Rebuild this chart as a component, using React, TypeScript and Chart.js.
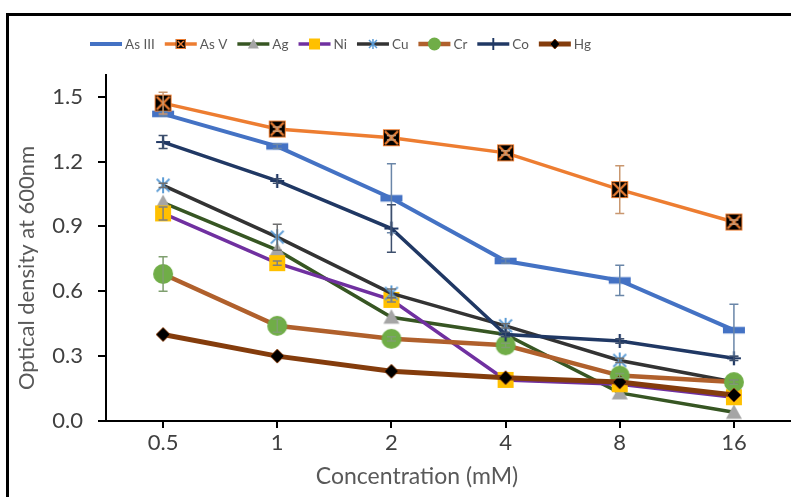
import React, { useEffect, useRef } from 'react';
import { Chart, registerables } from 'chart.js';

Chart.register(...registerables);

// ---------------- data ----------------
const categories = ['0.5', '1', '2', '4', '8', '16'];
const yTickValues = [0, 0.3, 0.6, 0.9, 1.2, 1.5];
const seriesNames = ['As III', 'As V', 'Ag', 'Ni', 'Cu', 'Cr', 'Co', 'Hg'];

const asIII = [1.42, 1.27, 1.03, 0.74, 0.65, 0.42];
const asV = [1.47, 1.35, 1.31, 1.24, 1.07, 0.92];
const ag = [1.01, 0.79, 0.48, 0.40, 0.13, 0.04];
const ni = [0.96, 0.73, 0.56, 0.19, 0.17, 0.11];
const cu = [1.09, 0.85, 0.59, 0.44, 0.28, 0.18];
const cr = [0.68, 0.44, 0.38, 0.35, 0.21, 0.18];
const co = [1.29, 1.11, 0.89, 0.40, 0.37, 0.29];
const hg = [0.40, 0.30, 0.23, 0.20, 0.18, 0.12];

const asIIIErr = [0.01, 0.01, 0.16, 0.01, 0.07, 0.12];
const asVErr = [0.05, 0.01, 0.01, 0.01, 0.11, 0.01];
const agErr = [0, 0, 0, 0, 0, 0];
const niErr = [0.03, 0.01, 0.01, 0, 0, 0];
const cuErr = [0.01, 0.06, 0.02, 0.01, 0.01, 0.01];
const crErr = [0.08, 0.03, 0.01, 0.01, 0.01, 0.01];
const coErr = [0.03, 0.01, 0.11, 0.01, 0.01, 0.01];
const hgErr = [0, 0, 0, 0, 0, 0];

const seriesValues = [asIII, asV, ag, ni, cu, cr, co, hg];
const seriesErrors = [asIIIErr, asVErr, agErr, niErr, cuErr, crErr, coErr, hgErr];

const xTitle = 'Concentration (mM)';
const yTitle = 'Optical density at 600nm';

// ---------------- styles ----------------
const FONT = 'Lato, "Open Sans", sans-serif';
const TEXT = '#595959';
const TICK_TEXT = '#404040';

type Kind = 'dash' | 'xsquare' | 'triangle' | 'square' | 'asterisk' | 'circle' | 'plus' | 'diamond';
interface Sty {
  line: string;
  width: number;
  kind: Kind;
  fill: string;
  stroke: string;
  size: number;
  legendSize: number;
  err: string;
}

const styles: Sty[] = [
  { line: '#4472C4', width: 4, kind: 'dash', fill: '#4472C4', stroke: '#4472C4', size: 11, legendSize: 6, err: '#6a86a8' },
  { line: '#ED7D31', width: 3.5, kind: 'xsquare', fill: '#000000', stroke: '#ED7D31', size: 8.5, legendSize: 5, err: '#c9976f' },
  { line: '#375623', width: 3.5, kind: 'triangle', fill: '#A5A5A5', stroke: '#A5A5A5', size: 8, legendSize: 5.5, err: '#808080' },
  { line: '#7030A0', width: 3.5, kind: 'square', fill: '#FFC000', stroke: '#FFC000', size: 8, legendSize: 5.5, err: '#808080' },
  { line: '#333333', width: 3.5, kind: 'asterisk', fill: '#5B9BD5', stroke: '#5B9BD5', size: 8, legendSize: 5, err: '#6f6f6f' },
  { line: '#B0602C', width: 4.5, kind: 'circle', fill: '#70AD47', stroke: '#70AD47', size: 10, legendSize: 6.5, err: '#7f9f6f' },
  { line: '#203864', width: 3.5, kind: 'plus', fill: '#203864', stroke: '#203864', size: 7, legendSize: 6, err: '#3d4f6d' },
  { line: '#843C0C', width: 5, kind: 'diamond', fill: '#000000', stroke: '#843C0C', size: 7, legendSize: 5, err: '#843C0C' },
];

function drawMarker(ctx: CanvasRenderingContext2D, kind: Kind, cx: number, cy: number, s: number, fill: string, stroke: string) {
  ctx.save();
  ctx.lineCap = 'butt';
  switch (kind) {
    case 'dash':
      ctx.fillStyle = fill;
      ctx.fillRect(cx - s, cy - s * 0.3, 2 * s, s * 0.6);
      break;
    case 'xsquare': {
      ctx.fillStyle = fill;
      ctx.fillRect(cx - s, cy - s, 2 * s, 2 * s);
      ctx.strokeStyle = stroke;
      ctx.lineWidth = 1;
      ctx.strokeRect(cx - s + 0.5, cy - s + 0.5, 2 * s - 1, 2 * s - 1);
      ctx.lineWidth = Math.max(1.5, s * 0.28);
      const d = s - 2;
      ctx.beginPath();
      ctx.moveTo(cx - d, cy - d);
      ctx.lineTo(cx + d, cy + d);
      ctx.moveTo(cx + d, cy - d);
      ctx.lineTo(cx - d, cy + d);
      ctx.stroke();
      break;
    }
    case 'triangle':
      ctx.fillStyle = fill;
      ctx.beginPath();
      ctx.moveTo(cx, cy - s);
      ctx.lineTo(cx + s, cy + s * 0.8);
      ctx.lineTo(cx - s, cy + s * 0.8);
      ctx.closePath();
      ctx.fill();
      break;
    case 'square':
      ctx.fillStyle = fill;
      ctx.fillRect(cx - s, cy - s, 2 * s, 2 * s);
      break;
    case 'asterisk': {
      ctx.strokeStyle = stroke;
      ctx.lineWidth = Math.max(1.5, s * 0.25);
      const d = s * 0.8;
      ctx.beginPath();
      ctx.moveTo(cx, cy - s);
      ctx.lineTo(cx, cy + s);
      ctx.moveTo(cx - d, cy - d);
      ctx.lineTo(cx + d, cy + d);
      ctx.moveTo(cx + d, cy - d);
      ctx.lineTo(cx - d, cy + d);
      ctx.stroke();
      break;
    }
    case 'circle':
      ctx.fillStyle = fill;
      ctx.beginPath();
      ctx.arc(cx, cy, s, 0, Math.PI * 2);
      ctx.fill();
      break;
    case 'plus':
      ctx.strokeStyle = stroke;
      ctx.lineWidth = Math.max(1.5, s * 0.32);
      ctx.beginPath();
      ctx.moveTo(cx - s, cy);
      ctx.lineTo(cx + s, cy);
      ctx.moveTo(cx, cy - s);
      ctx.lineTo(cx, cy + s);
      ctx.stroke();
      break;
    case 'diamond':
      ctx.fillStyle = fill;
      ctx.strokeStyle = stroke;
      ctx.lineWidth = 1;
      ctx.beginPath();
      ctx.moveTo(cx, cy - s);
      ctx.lineTo(cx + s, cy);
      ctx.lineTo(cx, cy + s);
      ctx.lineTo(cx - s, cy);
      ctx.closePath();
      ctx.fill();
      ctx.stroke();
      break;
  }
  ctx.restore();
}

function makeMarker(st: Sty): HTMLCanvasElement {
  const c = document.createElement('canvas');
  const size = Math.ceil(st.size * 2 + 4);
  c.width = size;
  c.height = size;
  const ctx = c.getContext('2d')!;
  drawMarker(ctx, st.kind, size / 2, size / 2, st.size, st.fill, st.stroke);
  return c;
}

// ---------------- plugins ----------------
const errorBarsPlugin = {
  id: 'errorBars',
  afterDatasetsDraw(chart: any) {
    const { ctx } = chart;
    const y = chart.scales.y;
    ctx.save();
    chart.data.datasets.forEach((ds: any, i: number) => {
      const errs = seriesErrors[i];
      const meta = chart.getDatasetMeta(i);
      meta.data.forEach((pt: any, j: number) => {
        const e = errs[j];
        if (!e) return;
        const v = ds.data[j];
        const top = y.getPixelForValue(v + e);
        const bot = y.getPixelForValue(v - e);
        ctx.strokeStyle = styles[i].err;
        ctx.lineWidth = 1.5;
        ctx.beginPath();
        ctx.moveTo(pt.x, top);
        ctx.lineTo(pt.x, bot);
        ctx.moveTo(pt.x - 4.5, top);
        ctx.lineTo(pt.x + 4.5, top);
        ctx.moveTo(pt.x - 4.5, bot);
        ctx.lineTo(pt.x + 4.5, bot);
        ctx.stroke();
      });
    });
    ctx.restore();
  },
};

const legendPlugin = {
  id: 'lineMarkerLegend',
  afterDraw(chart: any) {
    const { ctx } = chart;
    ctx.save();
    ctx.font = `13.5px ${FONT}`;
    ctx.textBaseline = 'middle';
    ctx.textAlign = 'left';
    let x = 90;
    const y = 44;
    chart.data.datasets.forEach((ds: any, i: number) => {
      const st = styles[i];
      ctx.strokeStyle = st.line;
      ctx.lineWidth = st.width;
      ctx.beginPath();
      ctx.moveTo(x, y);
      ctx.lineTo(x + 32, y);
      ctx.stroke();
      drawMarker(ctx, st.kind, x + 16, y, st.legendSize, st.fill, st.stroke);
      x += 32 + 3;
      ctx.fillStyle = TEXT;
      ctx.fillText(ds.label, x, y + 1);
      x += ctx.measureText(ds.label).width + 10;
    });
    ctx.restore();
  },
};

const titlesPlugin = {
  id: 'axisTitles',
  afterDraw(chart: any) {
    const { ctx } = chart;
    ctx.save();
    ctx.fillStyle = TEXT;
    ctx.textAlign = 'center';
    ctx.textBaseline = 'middle';
    ctx.font = `23px ${FONT}`;
    ctx.fillText(xTitle, 417, 477);
    ctx.font = `22px ${FONT}`;
    ctx.translate(27, 268);
    ctx.rotate(-Math.PI / 2);
    ctx.fillText(yTitle, 0, 0);
    ctx.restore();
  },
};

export default function App() {
  const ref = useRef<HTMLCanvasElement>(null);

  useEffect(() => {
    const datasets = seriesNames.map((name, i) => {
      const st = styles[i];
      return {
        label: name,
        data: seriesValues[i],
        borderColor: st.line,
        backgroundColor: st.line,
        borderWidth: st.width,
        pointStyle: makeMarker(st),
        pointRadius: st.size,
        pointHoverRadius: st.size,
        tension: 0,
        fill: false,
        order: seriesNames.length - 1 - i,
      };
    });

    const chart = new Chart(ref.current!, {
      type: 'line',
      data: { labels: categories, datasets },
      options: {
        responsive: false,
        maintainAspectRatio: false,
        animation: false,
        devicePixelRatio: 1,
        layout: { autoPadding: false, padding: { top: 75, left: 0, right: 0, bottom: 0 } },
        plugins: {
          legend: { display: false },
          tooltip: { enabled: false },
        },
        scales: {
          x: {
            type: 'category',
            offset: true,
            grid: { offset: false, drawOnChartArea: false, drawTicks: true, tickLength: 7, color: '#000', lineWidth: 2 },
            border: { color: '#000', width: 2 },
            ticks: { color: TICK_TEXT, font: { family: FONT, size: 22 }, padding: 2, maxRotation: 0 },
            afterFit: (s: any) => {
              s.height = 76;
              s.paddingLeft = 0;
              s.paddingRight = 0;
            },
          },
          y: {
            min: 0,
            max: 1.6,
            grid: { drawOnChartArea: false, drawTicks: true, tickLength: 8, color: '#000', lineWidth: 2 },
            border: { color: '#000', width: 2 },
            ticks: {
              color: TICK_TEXT,
              font: { family: FONT, size: 22 },
              padding: 15,
              callback: (v: any) => Number(v).toFixed(1),
            },
            afterBuildTicks: (s: any) => {
              s.ticks = yTickValues.map((v) => ({ value: v }));
            },
            afterFit: (s: any) => {
              s.width = 106;
            },
          },
        },
      },
      plugins: [errorBarsPlugin, legendPlugin, titlesPlugin],
    } as any);

    return () => chart.destroy();
  }, []);

  return (
    <div style={{ position: 'fixed', left: 0, top: 0, width: 791, height: 497, background: '#fff', overflow: 'hidden' }}>
      <canvas ref={ref} width={791} height={497} style={{ display: 'block', width: 791, height: 497 }} />
      <div
        style={{
          position: 'absolute',
          left: 6,
          top: 13,
          right: -10,
          bottom: -10,
          borderLeft: '3px solid #000',
          borderTop: '3px solid #000',
          pointerEvents: 'none',
        }}
      />
    </div>
  );
}
